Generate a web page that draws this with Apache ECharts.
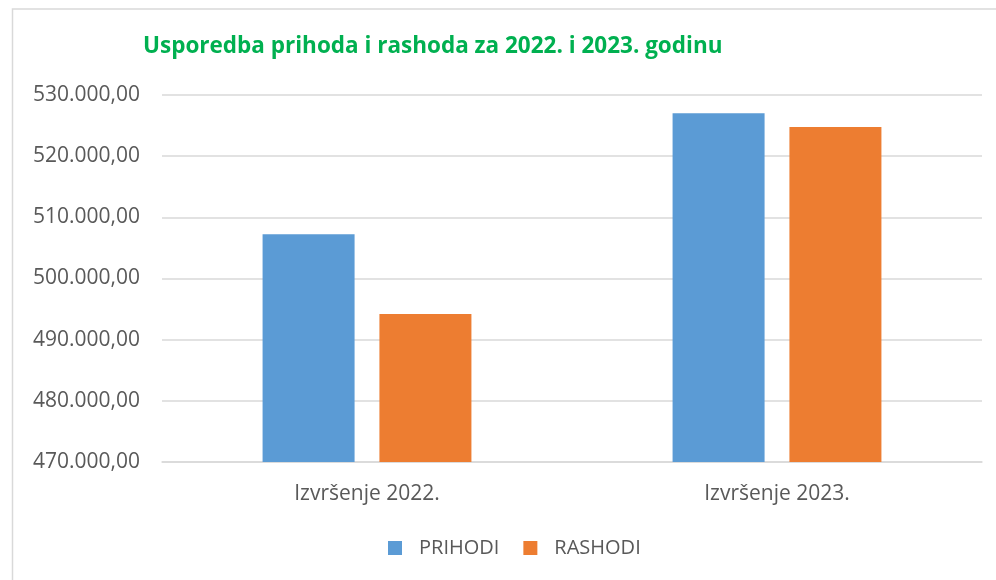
<!DOCTYPE html>
<html>
<head>
<meta charset="utf-8">
<script src="https://cdn.jsdelivr.net/npm/echarts@6/dist/echarts.min.js"></script>
<style>
  html, body { margin: 0; padding: 0; background: #fff; }
  #chart { width: 996px; height: 580px; }
</style>
</head>
<body>
<div id="chart"></div>
<script>
const categories = ['Izvršenje 2022.', 'Izvršenje 2023.']
const prihodi = [507250, 527030]
const rashodi = [494180, 524750]
const seriesNames = ['PRIHODI', 'RASHODI']

const chart = echarts.init(document.getElementById('chart'))

function fmt (v) {
  // 530000 -> 530.000,00
  const s = Math.round(v).toString().replace(/\B(?=(\d{3})+(?!\d))/g, '.')
  return s + ',00'
}

const options = {
  backgroundColor: '#fff',
  textStyle: { fontFamily: 'Open Sans' },
  title: {
    text: 'Usporedba prihoda i rashoda za 2022. i 2023. godinu',
    left: 138,
    top: 30,
    textStyle: {
      color: '#00b050',
      fontWeight: 'bold',
      fontSize: 22.5,
      fontFamily: 'Open Sans'
    }
  },
  graphic: [
    {
      type: 'rect',
      shape: { x: 12.5, y: 9, width: 1000, height: 600 },
      style: { fill: 'none', stroke: '#d9d9d9', lineWidth: 1.5 },
      silent: true
    }
  ],
  legend: {
    bottom: 17,
    left: 383,
    itemWidth: 14,
    itemHeight: 14,
    itemGap: 24,
    icon: 'rect',
    textStyle: { color: '#595959', fontSize: 20, padding: [0, 0, 0, 12] },
    data: seriesNames
  },
  grid: {
    left: 162,
    right: 14,
    top: 95,
    bottom: 118
  },
  xAxis: {
    type: 'category',
    data: categories,
    axisTick: { show: false },
    axisLine: { lineStyle: { color: '#d9d9d9', width: 1.5 } },
    axisLabel: { color: '#595959', fontSize: 21, margin: 22 }
  },
  yAxis: {
    type: 'value',
    min: 470000,
    max: 530000,
    interval: 10000,
    axisLine: { show: false },
    axisTick: { show: false },
    splitLine: { lineStyle: { color: '#d9d9d9', width: 1.5 } },
    axisLabel: { color: '#595959', fontSize: 21, margin: 22, formatter: fmt }
  },
  series: [
    {
      name: seriesNames[0],
      type: 'bar',
      data: prihodi,
      barWidth: 92,
      barGap: '27%',
      itemStyle: { color: '#5b9bd5' }
    },
    {
      name: seriesNames[1],
      type: 'bar',
      data: rashodi,
      barWidth: 92,
      barGap: '27%',
      itemStyle: { color: '#ed7d31' }
    }
  ]
}
chart.setOption(options)
</script>
</body>
</html>
